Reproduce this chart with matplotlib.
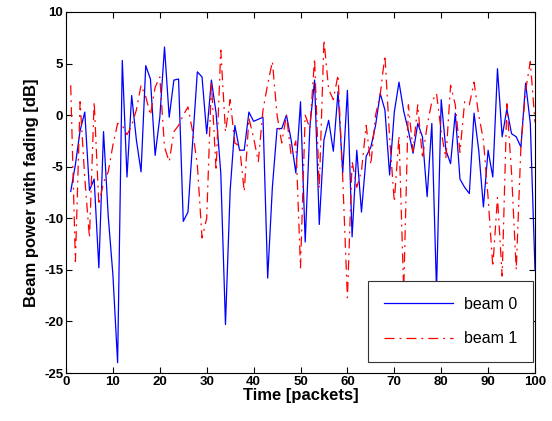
import matplotlib
matplotlib.use("Agg")
import matplotlib.pyplot as plt
import numpy as np


plt.rcParams["font.family"] = ["Liberation Sans", "DejaVu Sans"]
plt.rcParams["axes.unicode_minus"] = False

# Time axis, one value per packet
packets = list(range(1, 101))

# Received beam power with fading [dB]
beam_0 = [
    -7.4, -4.8, -1.5, 0.3, -7.3, -6.2, -14.8, -1.6, -9.8, -15.5,
    -24.0, 5.3, -6.0, 1.9, -2.4, -5.5, 4.8, 3.5, -3.9, -0.2,
    6.6, -0.2, 3.4, 3.5, -10.3, -9.4, -2.6, 4.2, 3.7, -1.8,
    3.4, 0.2, -5.6, -20.3, -7.3, -1.0, -3.4, -3.4, 0.3, -0.6,
    -0.4, -0.2, -15.8, -7.0, -1.3, -1.3, 0.0, -2.4, -5.6, 1.3,
    -12.3, -1.1, 3.4, -10.6, -2.4, -0.5, -3.5, 2.3, -5.6, 2.4,
    -11.8, -3.4, -9.4, -4.0, -3.1, -1.0, 2.1, 0.5, -5.8, 0.3,
    3.2, 0.4, -1.5, -3.7, -0.8, -2.1, -7.9, -0.8, -17.0, 1.5,
    -3.4, -4.7, 0.2, -6.2, -7.0, -7.6, 0.2, -3.4, -8.9, -3.4,
    -6.0, 4.5, -2.1, 0.6, -1.8, -2.1, -3.1, 3.1, -0.8, -15.0,
]

beam_1 = [
    2.9, -14.2, 1.3, -6.1, -11.9, 1.3, -8.7, -6.5, -5.5, -2.9,
    -0.8, -1.0, -1.9, -1.0, 0.5, 2.9, 1.8, 0.0, 2.7, 3.7,
    -3.1, -4.5, -1.6, -1.0, 0.0, 0.8, -1.6, -4.8, -11.9, -10.0,
    3.2, -5.4, 6.3, -1.6, 1.5, -2.7, -3.0, -7.4, -0.3, -2.2,
    -4.5, 0.5, 3.0, 5.2, 0.0, -2.7, 0.0, -3.9, -2.5, -14.8,
    0.0, -1.3, 5.5, -7.1, 7.3, 2.5, 1.5, 3.9, -6.1, -17.7,
    -4.5, -7.0, -5.4, -1.0, -4.8, 0.0, 2.0, 5.8, -2.2, -8.4,
    -2.0, -17.0, 1.0, -3.5, 1.0, -4.2, -1.0, 1.3, 2.1, -1.6,
    -4.2, 2.9, 1.0, -3.6, 1.3, 1.0, 3.2, 0.0, -2.4, -8.0,
    -14.7, -8.0, -15.6, 1.1, -5.6, -15.0, -3.0, 2.4, 5.2, -0.7,
]

labels = ["beam 0", "beam 1"]
x_ticks = list(range(0, 101, 10))
y_ticks = list(range(-25, 11, 5))


figure = plt.figure(figsize=(5.52, 4.21), dpi=100)
axes = figure.add_axes([0.1196, 0.114, 0.8496, 0.8575])

axes.plot(packets, beam_0, color="#0000ff", linewidth=0.9, linestyle="-",
    label=labels[0])
axes.plot(packets, beam_1, color="#ff0000", linewidth=0.9,
    dashes=(8, 4, 1.5, 4), label=labels[1])

axes.set_xlim(0, 100)
axes.set_ylim(-25, 10)
axes.set_xticks(x_ticks)
axes.set_yticks(y_ticks)

axes.tick_params(direction="in", top=True, right=True, length=4, width=0.8,
    labelsize=9.5, pad=2)
for label in axes.get_xticklabels() + axes.get_yticklabels():
    label.set_fontweight("bold")

for spine in axes.spines.values():
    spine.set_linewidth(0.8)

axes.set_xlabel("Time [packets]", fontsize=12, fontweight="bold", labelpad=0)
axes.set_ylabel("Beam power with fading [dB]", fontsize=12,
    fontweight="bold", labelpad=4)

legend = axes.legend(loc="lower right", bbox_to_anchor=(0.996, 0.03),
    borderaxespad=0, fontsize=11.5, handlelength=4.3, borderpad=1.0,
    labelspacing=1.2, handletextpad=0.7, fancybox=False, framealpha=1.0,
    edgecolor="#333333")
legend.get_frame().set_linewidth(0.8)

plt.savefig("out.png", dpi=100)
plt.close()
